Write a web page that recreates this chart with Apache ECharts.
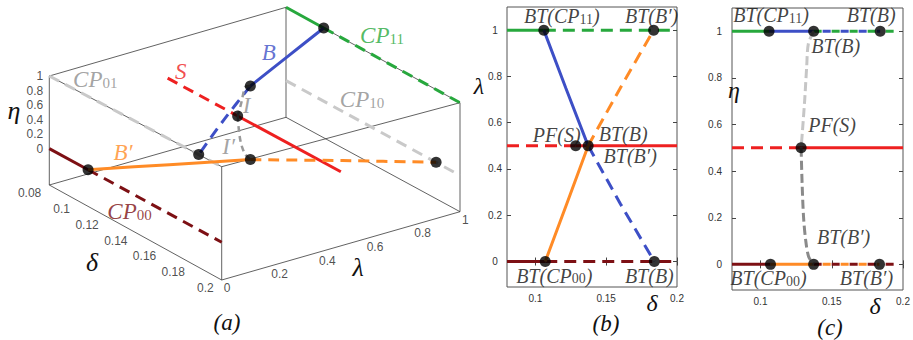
<!DOCTYPE html>
<html>
<head>
<meta charset="utf-8">
<script src="https://cdn.jsdelivr.net/npm/echarts@6/dist/echarts.min.js"></script>
<style>
  html, body { margin: 0; padding: 0; background: #fff; }
  #chart { width: 913px; height: 340px; }
</style>
</head>
<body>
<div id="chart"></div>
<script>
// ---------- data ----------
const deltaMin = 0.08
const deltaMax = 0.2
const etaBoxMin = -0.5   // bottom of the 3-D box sits below eta = 0
const etaBoxMax = 1

// tick labels
const deltaTicks3d = [0.08, 0.1, 0.12, 0.14, 0.16, 0.18, 0.2]
const lambdaTicks3d = [0, 0.2, 0.4, 0.6, 0.8, 1]
const etaTicks3d = [0, 0.2, 0.4, 0.6, 0.8, 1]
const deltaTicks2d = [0.1, 0.15, 0.2]
const yTicks2d = [0, 0.2, 0.4, 0.6, 0.8, 1]

// special points on the δ axis
const cp11Bt = 0.106   // BT on CP11 (λ = η = 1)
const cp00Bt = 0.107   // BT on CP00 (λ = η = 0)
const pfS = 0.1285     // pitchfork on S (λ = η = 0.5)
const bSplit = 0.1373  // B and B' meet S here
const bEnd = 0.184     // B reaches λ = 0
const bpEnd = 0.1835   // B' reaches λ = 1

// branch B (η = 1): λ falls from 1 to 0
const bDelta = [cp11Bt, 0.1215, bSplit, 0.160, bEnd]
const bLambda = [1, 0.75, 0.5, 0.25, 0]
// branch B' (η = 0): λ rises from 0 to 1
const bpDelta = [cp00Bt, 0.1222, bSplit, 0.1600, bpEnd]
const bpLambda = [0, 0.25, 0.5, 0.75, 1]
const stableCount = 3 // first three points of each branch are stable

// curves I (η 1 -> 0.5) and I' (η 0.5 -> 0), both at λ = 0.5
const iDelta = [bSplit, 0.1336, 0.1324, 0.1310, 0.1293, pfS]
const iEta = [1, 0.947, 0.847, 0.704, 0.561, 0.5]
const ipDelta = [pfS, 0.1292, 0.1302, 0.1317, 0.1338, bSplit]
const ipEta = [0.5, 0.347, 0.204, 0.104, 0.033, 0]

// ---------- styling ----------
const SERIF = '"Liberation Serif", "Times New Roman", serif'
const SANS = '"Liberation Sans", Arial, sans-serif'
const COL = {
  cp00: '#7d1014', cp11: '#27a83d', s: '#ee2020', b: '#3d4fc6', bp: '#ff8b26',
  gray: '#c9c9c9', grayText: '#8c8c8c', iLight: '#c6c6c6', iDark: '#8a8a8a', box: '#3a3a3a'
}
const DASH = [11, 7]

// camera for panel (a): screen position of the 8 box corners
// key = δ(lo/hi) λ(lo/hi) η(bottom/top)
const boxCorners = {
  '000': [49.3, 185], '001': [49.3, 76],
  '100': [221.7, 280], '101': [221.7, 166.7],
  '010': [286, 117.3], '011': [286, 7.3],
  '110': [460, 211.7], '111': [460, 102.7]
}
function project(d, l, e) {
  const u = (d - deltaMin) / (deltaMax - deltaMin)
  const w = (e - etaBoxMin) / (etaBoxMax - etaBoxMin)
  const f = [[1 - u, u], [1 - l, l], [1 - w, w]]
  let x = 0, y = 0
  for (const k in boxCorners) {
    const wt = f[0][+k[0]] * f[1][+k[1]] * f[2][+k[2]]
    x += wt * boxCorners[k][0]
    y += wt * boxCorners[k][1]
  }
  return [x, y]
}

const zip = (a, b) => a.map((v, i) => [v, b[i]])

function line(xi, yi, data, color, o = {}) {
  return {
    type: 'line', xAxisIndex: xi, yAxisIndex: yi, data,
    symbol: 'none', showSymbol: false, silent: true, animation: false,
    smooth: o.smooth || false, z: o.z || 3,
    lineStyle: { color, width: o.width || 3, type: o.dash || 'solid', dashOffset: o.offset || 0, cap: 'butt' }
  }
}
const line3 = (pts, color, o) => line(0, 0, pts.map(p => project(...p)), color, o)

function dots(xi, yi, data) {
  return {
    type: 'scatter', xAxisIndex: xi, yAxisIndex: yi, data, symbolSize: 11,
    itemStyle: { color: '#000' }, z: 6, silent: true, animation: false
  }
}

const rich = s => '{t|' + s.replace(/(\d+)/g, '}{s|$1}{t|') + '}'

function texts(xi, yi, items, big, small) {
  return {
    type: 'scatter', xAxisIndex: xi, yAxisIndex: yi, symbolSize: 1, z: 7,
    silent: true, animation: false, itemStyle: { color: 'rgba(0,0,0,0)' },
    data: items.map(it => ({
      value: it.at, name: it.text,
      label: { offset: it.off, color: it.color || '#111' }
    })),
    label: {
      show: true, position: 'inside', formatter: p => rich(p.name),
      rich: {
        t: { fontSize: big, fontStyle: 'italic', fontFamily: SERIF, verticalAlign: 'bottom' },
        s: { fontSize: small, fontFamily: SERIF, verticalAlign: 'bottom' }
      }
    }
  }
}

function tickTexts(values, at, align, off) {
  return {
    type: 'scatter', xAxisIndex: 0, yAxisIndex: 0, symbolSize: 1, z: 7,
    silent: true, animation: false, itemStyle: { color: 'rgba(0,0,0,0)' },
    data: values.map(v => ({ value: project(...at(v)), name: String(v) })),
    label: {
      show: true, position: 'inside', formatter: p => p.name, align, offset: off,
      fontSize: 12, fontFamily: SANS, color: '#222'
    }
  }
}

// ---------- panel (a) ----------
const seriesA = []
const edges = [
  ['000', '100'], ['100', '110'], ['110', '010'], ['010', '000'],
  ['001', '101'], ['101', '111'], ['111', '011'], ['011', '001'],
  ['000', '001'], ['100', '101'], ['110', '111'], ['010', '011']
]
edges.forEach(([p, q]) => {
  seriesA.push(line(0, 0, [boxCorners[p], boxCorners[q]], COL.box, { width: 0.8, z: 1 }))
})
// CP01 (λ=0, η=1) and CP10 (λ=1, η=0): unstable throughout
seriesA.push(line3([[deltaMin, 0, 1], [deltaMax, 0, 1]], COL.gray, { dash: DASH, z: 2 }))
seriesA.push(line3([[deltaMin, 1, 0], [deltaMax, 1, 0]], COL.gray, { dash: DASH, z: 2 }))
// CP00 and CP11
seriesA.push(line3([[deltaMin, 0, 0], [cp00Bt, 0, 0]], COL.cp00))
seriesA.push(line3([[cp00Bt, 0, 0], [deltaMax, 0, 0]], COL.cp00, { dash: DASH }))
seriesA.push(line3([[deltaMin, 1, 1], [cp11Bt, 1, 1]], COL.cp11))
seriesA.push(line3([[cp11Bt, 1, 1], [deltaMax, 1, 1]], COL.cp11, { dash: DASH }))
// S
seriesA.push(line3([[deltaMin, 0.5, 0.5], [pfS, 0.5, 0.5]], COL.s, { dash: DASH }))
seriesA.push(line3([[pfS, 0.5, 0.5], [deltaMax, 0.5, 0.5]], COL.s))
// B and B'
const b3 = bDelta.map((d, i) => [d, bLambda[i], 1])
const bp3 = bpDelta.map((d, i) => [d, bpLambda[i], 0])
seriesA.push(line3(b3.slice(0, stableCount), COL.b, { smooth: 0.3 }))
seriesA.push(line3(b3.slice(stableCount - 1), COL.b, { dash: DASH, smooth: 0.3 }))
seriesA.push(line3(bp3.slice(0, stableCount), COL.bp, { smooth: 0.3 }))
seriesA.push(line3(bp3.slice(stableCount - 1), COL.bp, { dash: DASH, smooth: 0.3 }))
// I and I'
seriesA.push(line3(iDelta.map((d, i) => [d, 0.5, iEta[i]]), '#9a9a9a', { dash: [6, 4], smooth: 0.3, width: 2.5 }))
seriesA.push(line3(ipDelta.map((d, i) => [d, 0.5, ipEta[i]]), '#9a9a9a', { dash: [6, 4], smooth: 0.3, width: 2.5 }))
// bifurcation points
seriesA.push(dots(0, 0, [
  [cp11Bt, 1, 1], [bSplit, 0.5, 1], [bEnd, 0, 1], [pfS, 0.5, 0.5],
  [cp00Bt, 0, 0], [bSplit, 0.5, 0], [bpEnd, 1, 0]
].map(p => project(...p))))
// ticks
seriesA.push(tickTexts(etaTicks3d, v => [deltaMin, 0, v], 'right', [-6, 0]))
seriesA.push(tickTexts(deltaTicks3d, v => [v, 0, etaBoxMin], 'right', [-8, 8]))
seriesA.push(tickTexts(lambdaTicks3d, v => [deltaMax, v, etaBoxMin], 'left', [2, 8]))
// curve names
const sceneLabels = [
  { text: 'CP11', at: [0.14, 1, 1], off: [9, -20], color: COL.cp11 },
  { text: 'B', at: [0.1215, 0.75, 1], off: [-18, -5], color: COL.b },
  { text: 'S', at: [deltaMin, 0.5, 0.5], off: [13, -7], color: COL.s },
  { text: 'CP01', at: [deltaMin, 0, 1], off: [46, 3], color: COL.grayText },
  { text: 'CP10', at: [0.14, 1, 0], off: [-11, -29], color: COL.grayText },
  { text: 'I', at: [pfS, 0.5, 0.5], off: [9, -10], color: COL.grayText },
  { text: 'I′', at: [pfS, 0.5, 0.5], off: [-9, 31], color: COL.grayText },
  { text: 'B′', at: [cp00Bt, 0, 0], off: [35, -17], color: COL.bp },
  { text: 'CP00', at: [0.14, 0, 0], off: [-6, 16], color: COL.cp00 }
].map(o => ({ ...o, at: project(...o.at) }))
seriesA.push(texts(0, 0, sceneLabels, 23, 15))

// ---------- panel (b): λ against δ ----------
const seriesB = [
  line(1, 1, [[deltaMin, 1], [cp11Bt, 1]], COL.cp11),
  line(1, 1, [[cp11Bt, 1], [deltaMax, 1]], COL.cp11, { dash: [12, 7] }),
  line(1, 1, [[deltaMin, 0], [cp00Bt, 0]], COL.cp00),
  line(1, 1, [[cp00Bt, 0], [deltaMax, 0]], COL.cp00, { dash: [12, 7] }),
  line(1, 1, [[deltaMin, 0.5], [pfS, 0.5]], COL.s, { dash: [12, 7] }),
  line(1, 1, [[pfS, 0.5], [deltaMax, 0.5]], COL.s),
  line(1, 1, zip(bDelta, bLambda).slice(0, stableCount), COL.b),
  line(1, 1, zip(bDelta, bLambda).slice(stableCount - 1), COL.b, { dash: [12, 7] }),
  line(1, 1, zip(bpDelta, bpLambda).slice(0, stableCount), COL.bp),
  line(1, 1, zip(bpDelta, bpLambda).slice(stableCount - 1), COL.bp, { dash: [12, 7], smooth: 0.3 }),
  dots(1, 1, [[cp11Bt, 1], [bpEnd, 1], [pfS, 0.5], [bSplit, 0.5], [cp00Bt, 0], [bEnd, 0]]),
  texts(1, 1, [
    { text: 'BT(CP11)', at: [cp11Bt, 1], off: [18, -14] },
    { text: 'BT(B′)', at: [bpEnd, 1], off: [-2, -14] },
    { text: 'PF(S)', at: [pfS, 0.5], off: [-19, -11] },
    { text: 'BT(B)', at: [bSplit, 0.5], off: [35, -12] },
    { text: 'BT(B′)', at: [bSplit, 0.5], off: [42, 10] },
    { text: 'BT(CP00)', at: [cp00Bt, 0], off: [9, 14] },
    { text: 'BT(B)', at: [bEnd, 0], off: [-5, 14] }
  ], 20, 14)
]

// ---------- panel (c): η against δ ----------
const bOnTop = bDelta.map(d => [d, 1])
const bpOnBottom = bpDelta.map(d => [d, 0])
const seriesC = [
  line(3, 3, [[deltaMin, 1], [cp11Bt, 1]], COL.cp11),
  line(3, 3, [[bSplit, 1], [deltaMax, 1]], COL.cp11, { dash: [8, 10] }),
  line(3, 3, bOnTop.slice(0, stableCount), COL.b),
  line(3, 3, bOnTop.slice(stableCount - 1), COL.b, { dash: [8, 10], offset: 9 }),
  line(3, 3, [[deltaMin, 0.5], [pfS, 0.5]], COL.s, { dash: [12, 7] }),
  line(3, 3, [[pfS, 0.5], [deltaMax, 0.5]], COL.s),
  line(3, 3, [[deltaMin, 0], [cp00Bt, 0]], COL.cp00),
  line(3, 3, [[bSplit, 0], [deltaMax, 0]], COL.cp00, { dash: [8, 10] }),
  line(3, 3, bpOnBottom.slice(0, stableCount), COL.bp),
  line(3, 3, bpOnBottom.slice(stableCount - 1), COL.bp, { dash: [8, 10], offset: 9 }),
  line(3, 3, zip(iDelta, iEta), COL.iLight, { dash: [9, 4], smooth: 0.3 }),
  line(3, 3, zip(ipDelta, ipEta), COL.iDark, { dash: [9, 4], smooth: 0.3 }),
  dots(3, 3, [[cp11Bt, 1], [bSplit, 1], [bEnd, 1], [pfS, 0.5], [cp00Bt, 0], [bSplit, 0], [bpEnd, 0]]),
  texts(3, 3, [
    { text: 'BT(CP11)', at: [cp11Bt, 1], off: [2, -16] },
    { text: 'BT(B)', at: [bEnd, 1], off: [-9, -16] },
    { text: 'BT(B)', at: [bSplit, 1], off: [22, 15] },
    { text: 'PF(S)', at: [pfS, 0.5], off: [31, -23] },
    { text: 'BT(B′)', at: [bSplit, 0], off: [30, -27] },
    { text: 'BT(CP00)', at: [cp00Bt, 0], off: [-2, 14] },
    { text: 'BT(B′)', at: [bpEnd, 0], off: [-13, 14] }
  ], 20, 14)
]

// ---------- axes ----------
const tickStyle = { inside: true, length: 4, lineStyle: { color: '#444' } }
function xAxes(grid) {
  return [
    {
      gridIndex: grid, type: 'value', min: deltaMin, max: deltaMax,
      axisLine: { show: false }, splitLine: { show: false },
      axisTick: { ...tickStyle, customValues: deltaTicks2d },
      axisLabel: { customValues: deltaTicks2d, fontSize: 10, fontFamily: SANS, color: '#333', margin: 6 }
    },
    {
      gridIndex: grid, type: 'value', position: 'top', min: deltaMin, max: deltaMax,
      axisLine: { show: false }, splitLine: { show: false }, axisLabel: { show: false },
      axisTick: { ...tickStyle, customValues: deltaTicks2d }
    }
  ]
}
function yAxes(grid, labelAlign, margin) {
  return [
    {
      gridIndex: grid, type: 'value', min: -0.11, max: 1.1,
      axisLine: { show: false }, splitLine: { show: false },
      axisTick: { ...tickStyle, customValues: yTicks2d },
      axisLabel: { customValues: yTicks2d, fontSize: 10, fontFamily: SANS, color: '#333', margin, align: labelAlign }
    },
    {
      gridIndex: grid, type: 'value', position: 'right', min: -0.11, max: 1.1,
      axisLine: { show: false }, splitLine: { show: false }, axisLabel: { show: false },
      axisTick: { ...tickStyle, customValues: yTicks2d }
    }
  ]
}

// axis titles and panel names
const titles = [
  { t: 'η', x: 14, y: 110, size: 26 },
  { t: 'δ', x: 92, y: 262, size: 26 },
  { t: 'λ', x: 358, y: 267, size: 26 },
  { t: '(a)', x: 227, y: 322, size: 23 },
  { t: 'λ', x: 479, y: 86, size: 24 },
  { t: 'δ', x: 652, y: 303, size: 24 },
  { t: '(b)', x: 606, y: 323, size: 23 },
  { t: 'η', x: 734, y: 90, size: 24 },
  { t: 'δ', x: 875, y: 306, size: 24 },
  { t: '(c)', x: 830, y: 327, size: 23 }
]

const chart = echarts.init(document.getElementById('chart'), null, { renderer: 'svg' })
chart.setOption({
  animation: false,
  backgroundColor: '#fff',
  grid: [
    { left: 0, top: 0, right: 0, bottom: 0 },
    { left: 507, top: 7, width: 170, height: 280, show: true, borderColor: '#555', borderWidth: 1 },
    { left: 732, top: 8, width: 171, height: 282, show: true, borderColor: '#555', borderWidth: 1 }
  ],
  xAxis: [
    { gridIndex: 0, type: 'value', min: 0, max: 913, show: false },
    ...xAxes(1),
    ...xAxes(2)
  ],
  yAxis: [
    { gridIndex: 0, type: 'value', min: 0, max: 340, inverse: true, show: false },
    ...yAxes(1, 'center', 12),
    ...yAxes(2, 'right', 10)
  ],
  graphic: titles.map(o => ({
    type: 'text', x: o.x, y: o.y, silent: true,
    style: {
      text: o.t, fill: '#111', align: 'center', verticalAlign: 'middle',
      font: `italic ${o.size}px ${SERIF}`
    }
  })),
  series: [...seriesA, ...seriesB, ...seriesC]
})

window.addEventListener('resize', () => chart.resize())
</script>
</body>
</html>
